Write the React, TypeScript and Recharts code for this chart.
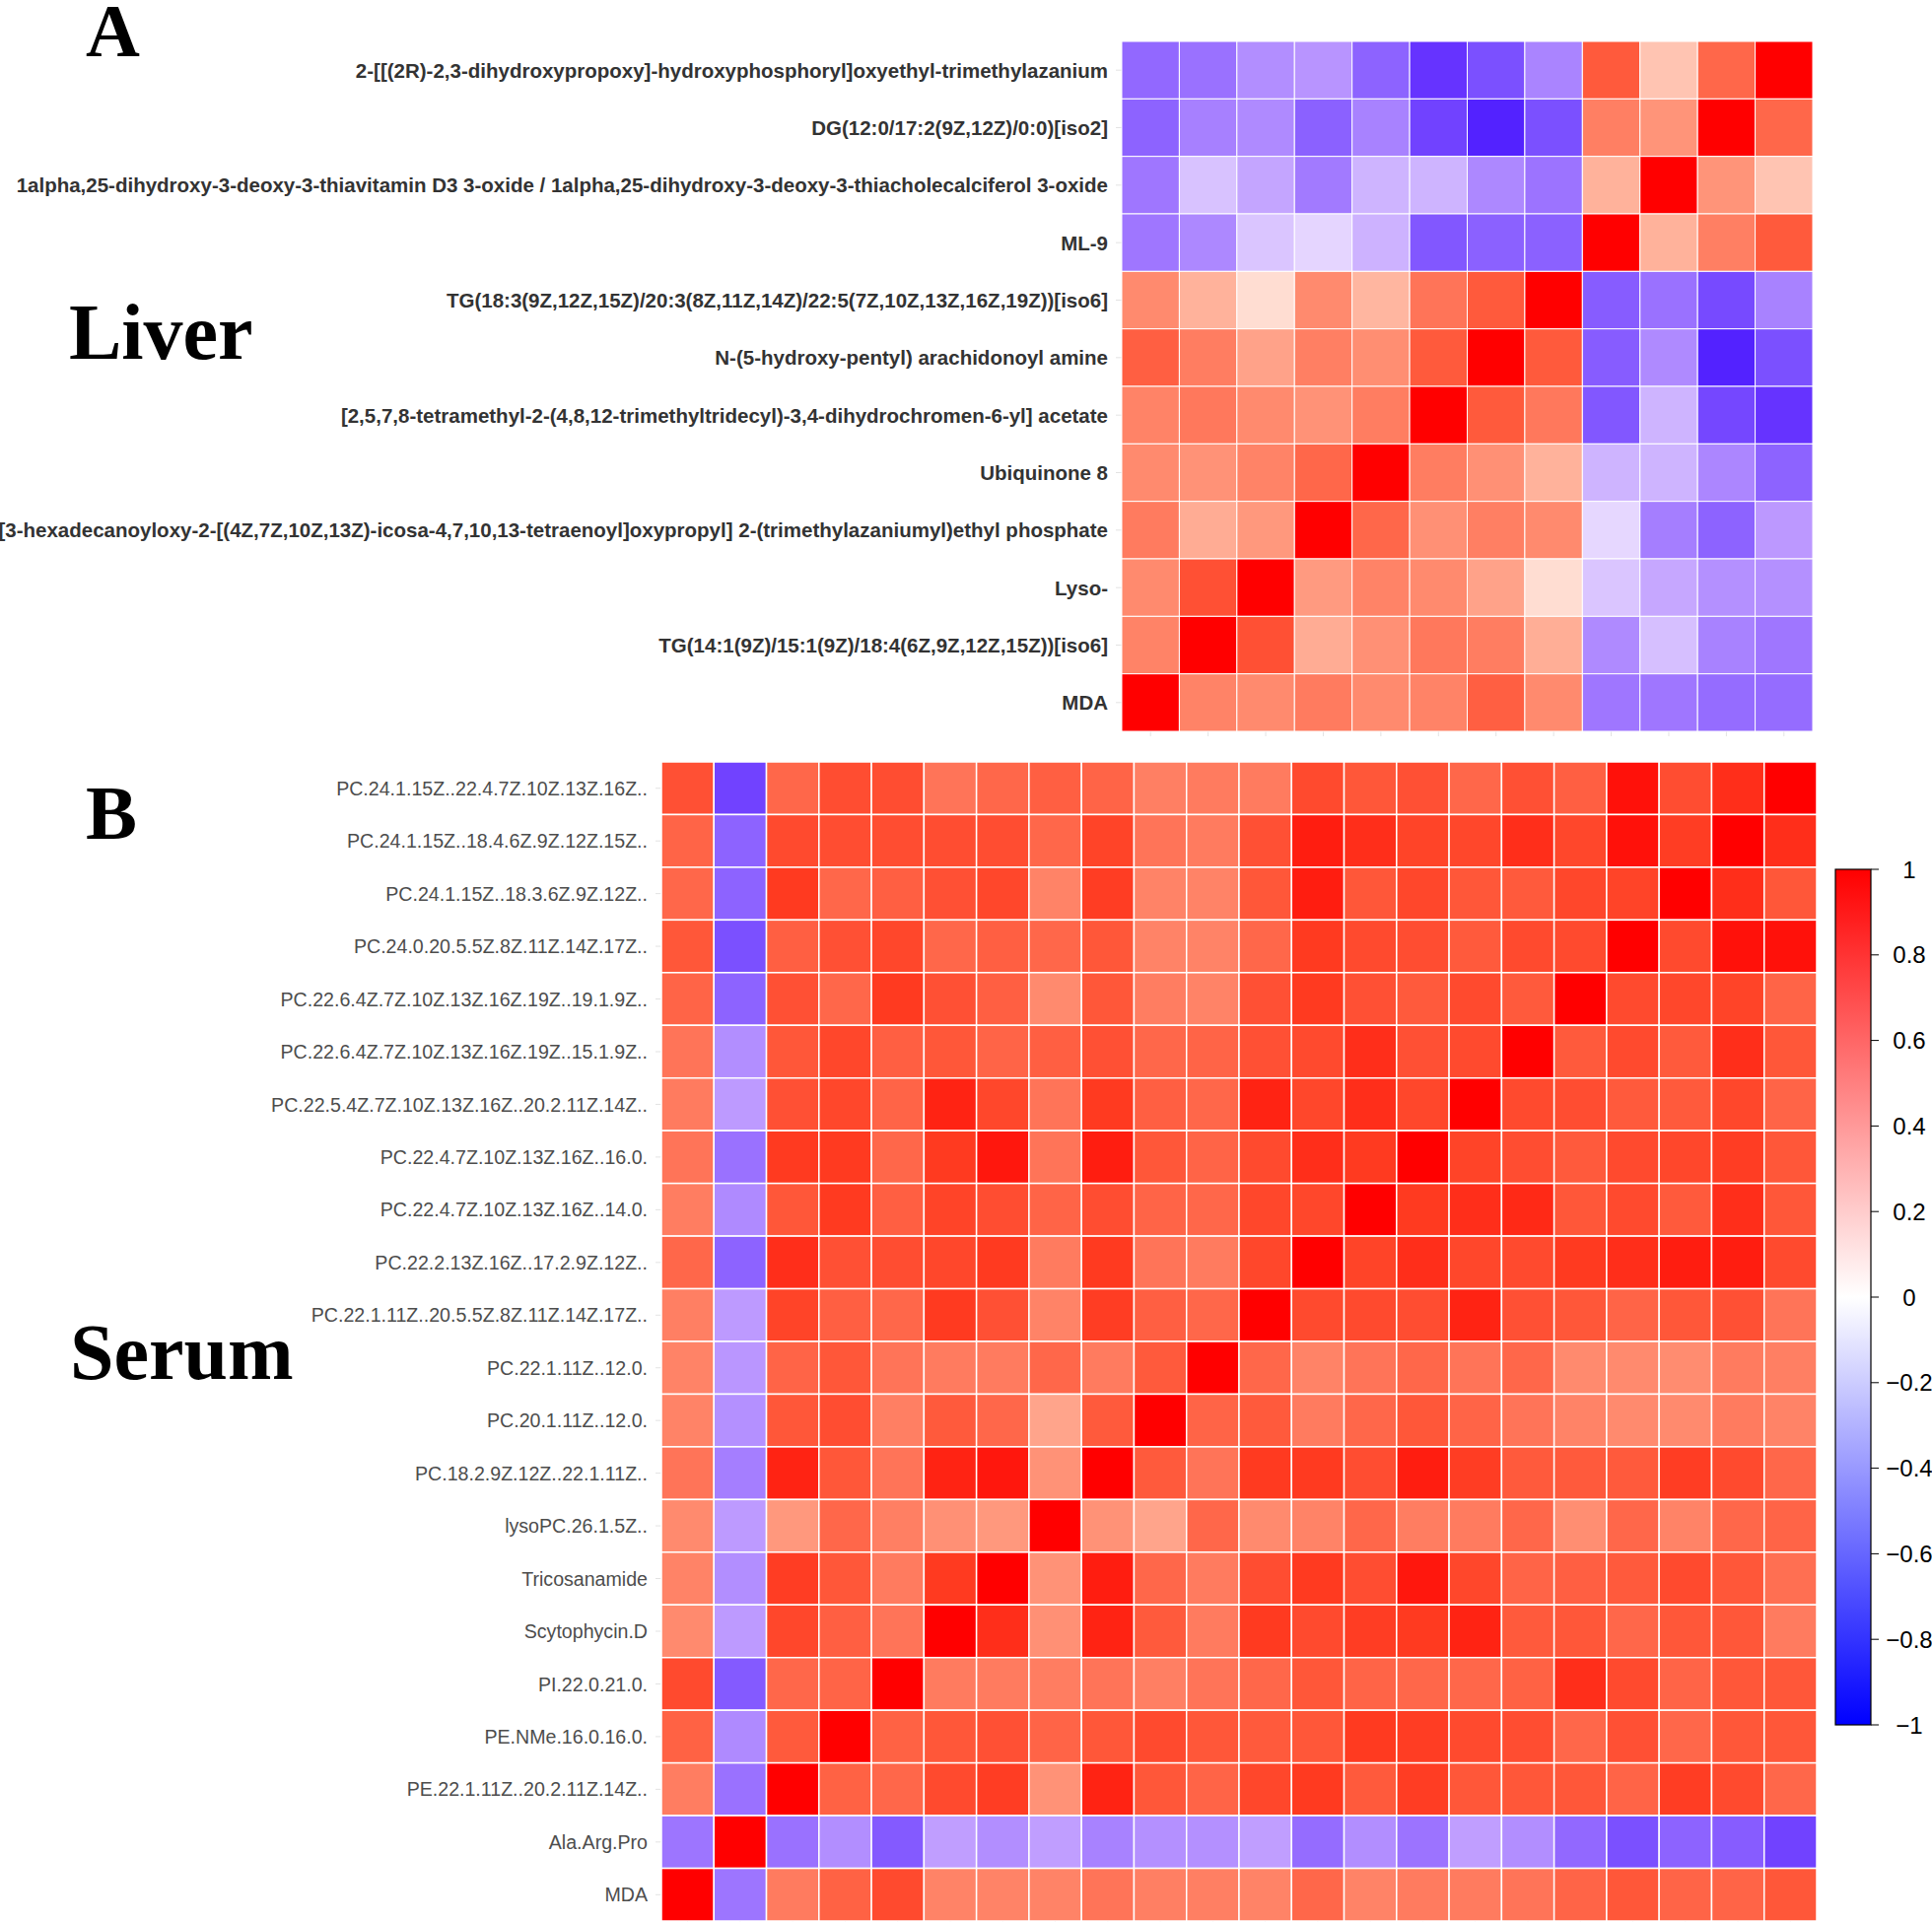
import React from 'react';
import { ScatterChart, Scatter, XAxis, YAxis } from 'recharts';

const liverLabels = [
  '2-[[(2R)-2,3-dihydroxypropoxy]-hydroxyphosphoryl]oxyethyl-trimethylazanium',
  'DG(12:0/17:2(9Z,12Z)/0:0)[iso2]',
  '1alpha,25-dihydroxy-3-deoxy-3-thiavitamin D3 3-oxide / 1alpha,25-dihydroxy-3-deoxy-3-thiacholecalciferol 3-oxide',
  'ML-9',
  'TG(18:3(9Z,12Z,15Z)/20:3(8Z,11Z,14Z)/22:5(7Z,10Z,13Z,16Z,19Z))[iso6]',
  'N-(5-hydroxy-pentyl) arachidonoyl amine',
  '[2,5,7,8-tetramethyl-2-(4,8,12-trimethyltridecyl)-3,4-dihydrochromen-6-yl] acetate',
  'Ubiquinone 8',
  '[3-hexadecanoyloxy-2-[(4Z,7Z,10Z,13Z)-icosa-4,7,10,13-tetraenoyl]oxypropyl] 2-(trimethylazaniumyl)ethyl phosphate',
  'Lyso-',
  'TG(14:1(9Z)/15:1(9Z)/18:4(6Z,9Z,12Z,15Z))[iso6]',
  'MDA',
];

// rows top to bottom, columns left to right (columns run in reverse label order)
const liverMatrix = [
  [-0.7, -0.65, -0.5, -0.47, -0.72, -0.9, -0.8, -0.55, 0.8, 0.3, 0.75, 1],
  [-0.72, -0.57, -0.52, -0.73, -0.56, -0.85, -0.95, -0.8, 0.65, 0.55, 1, 0.75],
  [-0.62, -0.25, -0.38, -0.6, -0.3, -0.3, -0.53, -0.64, 0.4, 1, 0.55, 0.3],
  [-0.62, -0.53, -0.24, -0.18, -0.31, -0.77, -0.73, -0.73, 1, 0.4, 0.65, 0.8],
  [0.6, 0.4, 0.15, 0.6, 0.38, 0.7, 0.8, 1, -0.75, -0.65, -0.82, -0.56],
  [0.78, 0.66, 0.48, 0.65, 0.58, 0.8, 1, 0.8, -0.75, -0.52, -0.95, -0.8],
  [0.63, 0.68, 0.6, 0.56, 0.66, 1, 0.8, 0.68, -0.77, -0.3, -0.83, -0.9],
  [0.6, 0.56, 0.63, 0.75, 1, 0.66, 0.57, 0.4, -0.3, -0.3, -0.54, -0.72],
  [0.67, 0.43, 0.53, 1, 0.75, 0.57, 0.65, 0.6, -0.17, -0.58, -0.72, -0.45],
  [0.6, 0.83, 1, 0.52, 0.63, 0.6, 0.48, 0.15, -0.24, -0.37, -0.49, -0.49],
  [0.63, 1, 0.83, 0.43, 0.57, 0.68, 0.66, 0.42, -0.52, -0.26, -0.56, -0.62],
  [1, 0.63, 0.6, 0.67, 0.6, 0.63, 0.78, 0.6, -0.62, -0.62, -0.68, -0.68],
];

const serumLabels = [
  'PC.24.1.15Z..22.4.7Z.10Z.13Z.16Z..',
  'PC.24.1.15Z..18.4.6Z.9Z.12Z.15Z..',
  'PC.24.1.15Z..18.3.6Z.9Z.12Z..',
  'PC.24.0.20.5.5Z.8Z.11Z.14Z.17Z..',
  'PC.22.6.4Z.7Z.10Z.13Z.16Z.19Z..19.1.9Z..',
  'PC.22.6.4Z.7Z.10Z.13Z.16Z.19Z..15.1.9Z..',
  'PC.22.5.4Z.7Z.10Z.13Z.16Z..20.2.11Z.14Z..',
  'PC.22.4.7Z.10Z.13Z.16Z..16.0.',
  'PC.22.4.7Z.10Z.13Z.16Z..14.0.',
  'PC.22.2.13Z.16Z..17.2.9Z.12Z..',
  'PC.22.1.11Z..20.5.5Z.8Z.11Z.14Z.17Z..',
  'PC.22.1.11Z..12.0.',
  'PC.20.1.11Z..12.0.',
  'PC.18.2.9Z.12Z..22.1.11Z..',
  'lysoPC.26.1.5Z..',
  'Tricosanamide',
  'Scytophycin.D',
  'PI.22.0.21.0.',
  'PE.NMe.16.0.16.0.',
  'PE.22.1.11Z..20.2.11Z.14Z..',
  'Ala.Arg.Pro',
  'MDA',
];

const serumMatrix = [
  [0.83, -0.85, 0.75, 0.84, 0.84, 0.7, 0.75, 0.78, 0.76, 0.65, 0.67, 0.67, 0.85, 0.81, 0.83, 0.75, 0.83, 0.78, 0.97, 0.84, 0.92, 1],
  [0.76, -0.72, 0.85, 0.84, 0.84, 0.84, 0.84, 0.75, 0.87, 0.7, 0.67, 0.83, 0.95, 0.92, 0.87, 0.86, 0.92, 0.86, 0.97, 0.89, 1, 0.92],
  [0.75, -0.72, 0.9, 0.75, 0.78, 0.83, 0.86, 0.63, 0.89, 0.63, 0.63, 0.81, 0.95, 0.81, 0.86, 0.81, 0.8, 0.86, 0.87, 1, 0.92, 0.81],
  [0.81, -0.8, 0.78, 0.83, 0.86, 0.75, 0.78, 0.75, 0.81, 0.63, 0.63, 0.75, 0.9, 0.85, 0.84, 0.8, 0.85, 0.85, 1, 0.85, 0.97, 0.97],
  [0.76, -0.72, 0.83, 0.75, 0.9, 0.83, 0.78, 0.6, 0.81, 0.66, 0.63, 0.83, 0.9, 0.83, 0.8, 0.85, 0.8, 1, 0.85, 0.86, 0.87, 0.76],
  [0.7, -0.5, 0.81, 0.86, 0.78, 0.81, 0.76, 0.78, 0.83, 0.75, 0.76, 0.83, 0.85, 0.92, 0.83, 0.85, 1, 0.8, 0.85, 0.8, 0.92, 0.81],
  [0.67, -0.44, 0.83, 0.86, 0.76, 0.94, 0.86, 0.7, 0.9, 0.78, 0.75, 0.94, 0.86, 0.92, 0.86, 1, 0.85, 0.84, 0.8, 0.8, 0.86, 0.76],
  [0.7, -0.65, 0.9, 0.9, 0.75, 0.9, 0.96, 0.7, 0.95, 0.81, 0.76, 0.85, 0.92, 0.9, 1, 0.87, 0.84, 0.8, 0.85, 0.86, 0.89, 0.81],
  [0.66, -0.52, 0.81, 0.9, 0.78, 0.87, 0.84, 0.76, 0.84, 0.76, 0.75, 0.86, 0.86, 1, 0.9, 0.92, 0.93, 0.81, 0.85, 0.8, 0.92, 0.81],
  [0.75, -0.72, 0.92, 0.83, 0.84, 0.86, 0.9, 0.67, 0.9, 0.7, 0.67, 0.86, 1, 0.87, 0.92, 0.86, 0.85, 0.9, 0.92, 0.95, 0.95, 0.85],
  [0.65, -0.44, 0.87, 0.78, 0.75, 0.9, 0.83, 0.63, 0.89, 0.78, 0.75, 1, 0.85, 0.85, 0.84, 0.94, 0.83, 0.81, 0.76, 0.81, 0.83, 0.7],
  [0.63, -0.46, 0.76, 0.81, 0.7, 0.67, 0.67, 0.75, 0.67, 0.8, 1, 0.75, 0.63, 0.7, 0.75, 0.7, 0.75, 0.6, 0.6, 0.59, 0.67, 0.65],
  [0.63, -0.49, 0.81, 0.84, 0.65, 0.8, 0.75, 0.47, 0.8, 1, 0.76, 0.8, 0.67, 0.75, 0.81, 0.76, 0.7, 0.63, 0.6, 0.6, 0.67, 0.63],
  [0.7, -0.58, 0.94, 0.81, 0.7, 0.94, 0.96, 0.56, 1, 0.8, 0.7, 0.9, 0.9, 0.84, 0.95, 0.89, 0.8, 0.8, 0.8, 0.89, 0.85, 0.75],
  [0.6, -0.44, 0.53, 0.75, 0.65, 0.57, 0.53, 1, 0.56, 0.47, 0.75, 0.6, 0.63, 0.75, 0.66, 0.67, 0.75, 0.58, 0.75, 0.63, 0.75, 0.76],
  [0.63, -0.5, 0.89, 0.81, 0.67, 0.9, 1, 0.56, 0.95, 0.75, 0.67, 0.84, 0.9, 0.84, 0.96, 0.86, 0.76, 0.78, 0.8, 0.85, 0.81, 0.72],
  [0.6, -0.44, 0.86, 0.78, 0.7, 1, 0.92, 0.57, 0.94, 0.8, 0.67, 0.9, 0.85, 0.89, 0.9, 0.94, 0.8, 0.81, 0.75, 0.81, 0.81, 0.67],
  [0.85, -0.76, 0.75, 0.76, 1, 0.67, 0.67, 0.66, 0.7, 0.65, 0.7, 0.75, 0.81, 0.76, 0.75, 0.75, 0.77, 0.92, 0.85, 0.76, 0.81, 0.81],
  [0.77, -0.52, 0.8, 1, 0.77, 0.81, 0.83, 0.76, 0.81, 0.85, 0.81, 0.8, 0.81, 0.9, 0.89, 0.85, 0.84, 0.75, 0.83, 0.75, 0.81, 0.81],
  [0.66, -0.65, 1, 0.77, 0.75, 0.85, 0.89, 0.56, 0.94, 0.81, 0.76, 0.86, 0.9, 0.8, 0.89, 0.81, 0.81, 0.81, 0.76, 0.89, 0.85, 0.75],
  [-0.63, 1, -0.65, -0.5, -0.76, -0.42, -0.5, -0.42, -0.56, -0.49, -0.49, -0.42, -0.68, -0.5, -0.64, -0.42, -0.5, -0.7, -0.8, -0.72, -0.75, -0.85],
  [1, -0.63, 0.67, 0.77, 0.85, 0.63, 0.63, 0.63, 0.7, 0.65, 0.65, 0.63, 0.75, 0.63, 0.67, 0.67, 0.7, 0.76, 0.81, 0.76, 0.76, 0.81],
];

const colorbarTicks = [1, 0.8, 0.6, 0.4, 0.2, 0, -0.2, -0.4, -0.6, -0.8, -1];

// colour ramp seen in the cells: [value, r, g, b]
const posStops = [
  [0, 255, 255, 255], [0.15, 255, 221, 210], [0.3, 255, 196, 178], [0.4, 255, 178, 155],
  [0.5, 255, 158, 132], [0.6, 255, 138, 110], [0.7, 255, 116, 88], [0.8, 255, 90, 60],
  [0.9, 255, 58, 32], [1, 255, 0, 0],
];
const negStops = [
  [0, 255, 255, 255], [0.2, 226, 208, 255], [0.3, 206, 180, 255], [0.45, 188, 152, 255],
  [0.5, 178, 142, 255], [0.6, 162, 122, 255], [0.7, 146, 104, 255], [0.8, 123, 80, 255],
  [0.9, 102, 51, 255], [1, 64, 16, 255],
];

const cellColor = (v: number) => {
  const stops = v >= 0 ? posStops : negStops;
  const t = Math.min(1, Math.abs(v));
  for (let i = 1; i < stops.length; i++) {
    if (t <= stops[i][0]) {
      const a = stops[i - 1];
      const b = stops[i];
      const f = (t - a[0]) / (b[0] - a[0]);
      const c = [1, 2, 3].map((k) => Math.round(a[k] + (b[k] - a[k]) * f));
      return `rgb(${c[0]},${c[1]},${c[2]})`;
    }
  }
  return 'rgb(255,0,0)';
};

const toCells = (matrix: number[][]) =>
  matrix.flatMap((row, r) => row.map((v, c) => ({ x: c, y: r, v })));

const sans = '"Liberation Sans", Arial, sans-serif';
const serif = '"Liberation Serif", "Times New Roman", serif';

interface HeatmapProps {
  labels: string[];
  matrix: number[][];
  width: number;
  height: number;
  margin: { top: number; right: number; bottom: number; left: number };
  axisWidth: number;
  xAxisHeight: number;
  labelStyle: React.SVGProps<SVGTextElement>;
  cellStroke: number;
}

const Heatmap: React.FC<HeatmapProps> = ({
  labels, matrix, width, height, margin, axisWidth, xAxisHeight, labelStyle, cellStroke,
}) => {
  const n = labels.length;
  const idx = labels.map((_, i) => i);
  const plotW = width - margin.left - margin.right - axisWidth;
  const plotH = height - margin.top - margin.bottom - xAxisHeight;
  const cw = plotW / n;
  const ch = plotH / n;

  const renderCell = (props: any) => {
    const { cx, cy, payload } = props;
    return (
      <rect
        x={cx - cw / 2}
        y={cy - ch / 2}
        width={cw}
        height={ch}
        fill={cellColor(payload.v)}
        stroke="#ffffff"
        strokeWidth={cellStroke}
      />
    );
  };

  const renderLabel = (props: any) => {
    const { x, y, payload } = props;
    return (
      <text x={x} y={y} dy="0.36em" textAnchor="end" {...labelStyle}>
        {labels[payload.value]}
      </text>
    );
  };

  return (
    <ScatterChart width={width} height={height} margin={margin}>
      <XAxis
        type="number"
        dataKey="x"
        domain={[-0.5, n - 0.5]}
        ticks={idx}
        interval={0}
        height={xAxisHeight}
        axisLine={false}
        tickSize={5}
        tickLine={{ stroke: '#e3e3e3' }}
        tick={() => <g />}
      />
      <YAxis
        type="number"
        dataKey="y"
        domain={[-0.5, n - 0.5]}
        reversed
        ticks={idx}
        interval={0}
        width={axisWidth}
        axisLine={false}
        tickSize={6}
        tickMargin={8}
        tickLine={{ stroke: '#e3e3e3' }}
        tick={renderLabel}
      />
      <Scatter data={toCells(matrix)} shape={renderCell} isAnimationActive={false} />
    </ScatterChart>
  );
};

const ColorBar: React.FC = () => {
  const top = 12;
  const barH = 868;
  const yOf = (v: number) => top + ((1 - v) / 2) * barH;
  return (
    <svg width={110} height={900} style={{ position: 'absolute', left: 1850, top: 870 }}>
      <defs>
        <linearGradient id="cbar" x1="0" y1="0" x2="0" y2="1">
          <stop offset="0%" stopColor="#ff0000" />
          <stop offset="50%" stopColor="#ffffff" />
          <stop offset="100%" stopColor="#0000ff" />
        </linearGradient>
      </defs>
      <rect x={12} y={top} width={36} height={barH} fill="url(#cbar)" stroke="#000" strokeWidth={1.2} />
      {colorbarTicks.map((t) => (
        <g key={t}>
          <line x1={48} x2={56} y1={yOf(t)} y2={yOf(t)} stroke="#000" strokeWidth={1} />
          <text
            x={87}
            y={yOf(t)}
            dy="0.36em"
            textAnchor="middle"
            fontFamily={sans}
            fontSize={24}
            fill="#000"
          >
            {t < 0 ? `\u2212${Math.abs(t)}` : `${t}`}
          </text>
        </g>
      ))}
    </svg>
  );
};

const bigLetter = (text: string, x: number, y: number, size: number) => (
  <div
    style={{
      position: 'absolute',
      left: x,
      top: y,
      fontFamily: serif,
      fontWeight: 'bold',
      fontSize: size,
      lineHeight: 1,
      color: '#000',
    }}
  >
    {text}
  </div>
);

export default function App() {
  return (
    <div
      style={{
        position: 'absolute',
        left: 0,
        top: 0,
        width: 1960,
        height: 1950,
        overflow: 'hidden',
        background: '#fff',
      }}
    >
      <div style={{ position: 'absolute', left: 0, top: 0 }}>
        <Heatmap
          labels={liverLabels}
          matrix={liverMatrix}
          width={1861}
          height={760}
          margin={{ top: 42, right: 22, bottom: 0, left: 0 }}
          axisWidth={1138}
          xAxisHeight={18}
          labelStyle={{ fontFamily: sans, fontSize: 20.5, fontWeight: 'bold', fill: '#333333' }}
          cellStroke={1}
        />
      </div>
      <div style={{ position: 'absolute', left: 0, top: 760 }}>
        <Heatmap
          labels={serumLabels}
          matrix={serumMatrix}
          width={1850}
          height={1200}
          margin={{ top: 13, right: 7, bottom: 0, left: 0 }}
          axisWidth={671}
          xAxisHeight={11}
          labelStyle={{ fontFamily: sans, fontSize: 19.6, fill: '#4d4d4d' }}
          cellStroke={1.5}
        />
      </div>
      <ColorBar />
      {bigLetter('A', 87, -7, 76)}
      {bigLetter('Liver', 70, 297, 80)}
      {bigLetter('B', 87, 786, 78)}
      {bigLetter('Serum', 71, 1332, 80)}
    </div>
  );
}
